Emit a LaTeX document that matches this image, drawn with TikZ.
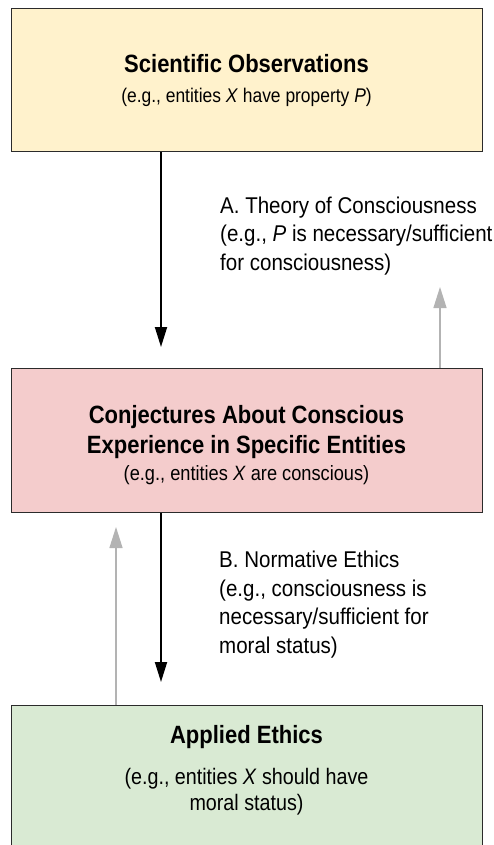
\documentclass[tikz,border=0pt]{standalone}
\usepackage{fontspec}
\setmainfont[FakeStretch=0.88]{Liberation Sans}
\newfontfamily\labelfont[FakeStretch=0.9]{Liberation Sans}
\usetikzlibrary{arrows.meta}
\definecolor{obsfill}{HTML}{FFF2CC}
\definecolor{conjfill}{HTML}{F4CCCC}
\definecolor{appfill}{HTML}{D9EAD3}
\definecolor{boxline}{HTML}{2B2B2B}
\definecolor{backgray}{HTML}{B3B3B3}
\begin{document}
\begin{tikzpicture}[x=1pt,y=-1pt,
  box/.style={draw=boxline, line width=1.1pt, minimum width=471pt, anchor=north west, inner sep=0pt},
  titletext/.style={font=\fontsize{25}{30}\selectfont\bfseries, anchor=base, inner sep=0pt},
  subtext/.style={font=\fontsize{19.8}{26}\selectfont, anchor=base, inner sep=0pt},
  subtextm/.style={font=\fontsize{20.7}{26}\selectfont, anchor=base, inner sep=0pt},
  subtextl/.style={font=\fontsize{22.4}{26}\selectfont, anchor=base, inner sep=0pt},
  labtext/.style={font=\labelfont\fontsize{22.8}{28.4}\selectfont, anchor=base west, align=left, inner sep=0pt},
  fwd/.style={draw=black, line width=1.8pt, -{Triangle[width=12pt,length=20pt]}},
  backarr/.style={draw=backgray, line width=1.3pt, -{Triangle[width=13pt,length=21pt]}}]
\useasboundingbox (0,0) rectangle (494,845);
% boxes
\node[box, fill=obsfill, minimum height=143pt] (obs) at (11,8) {};
\node[box, fill=conjfill, minimum height=144pt] (conj) at (11,368) {};
\node[box, fill=appfill, minimum height=160pt] (app) at (11,705) {};
% box texts
\node[titletext] (obsT) at (246.5,72.7) {Scientific Observations};
\node[subtext] (obsS) at (246.5,102.3) {(e.g., entities \textit{X} have property \textit{P})};
\node[titletext] (conjT1) at (246.5,423) {Conjectures About Conscious};
\node[titletext] (conjT2) at (246.5,453) {Experience in Specific Entities};
\node[subtextm] (conjS) at (246.5,480) {(e.g., entities \textit{X} are conscious)};
\node[titletext] (appT) at (246.5,743) {Applied Ethics};
\node[subtextl] (appS1) at (246.5,784) {(e.g., entities \textit{X} should have};
\node[subtextl] (appS2) at (246.5,810) {moral status)};
% labels (anchored at the baseline of their last line)
\node[labtext] (labA) at (220,270) {A. Theory of Consciousness\\(e.g., \textit{P} is necessary/sufficient\\for consciousness)};
\node[labtext] (labB) at (219,653) {B. Normative Ethics\\(e.g., consciousness is\\necessary/sufficient for\\moral status)};
% arrow ends
\coordinate (tipA) at (161,347);
\coordinate (tipAback) at (440,287);
\coordinate (tipB) at (161,682);
\coordinate (tipBback) at (116,527);
% connectors
\draw[fwd] (obs.south -| tipA) -- (tipA);
\draw[backarr] (conj.north -| tipAback) -- (tipAback);
\draw[fwd] (conj.south -| tipB) -- (tipB);
\draw[backarr] (app.north -| tipBback) -- (tipBback);
\end{tikzpicture}
\end{document}
